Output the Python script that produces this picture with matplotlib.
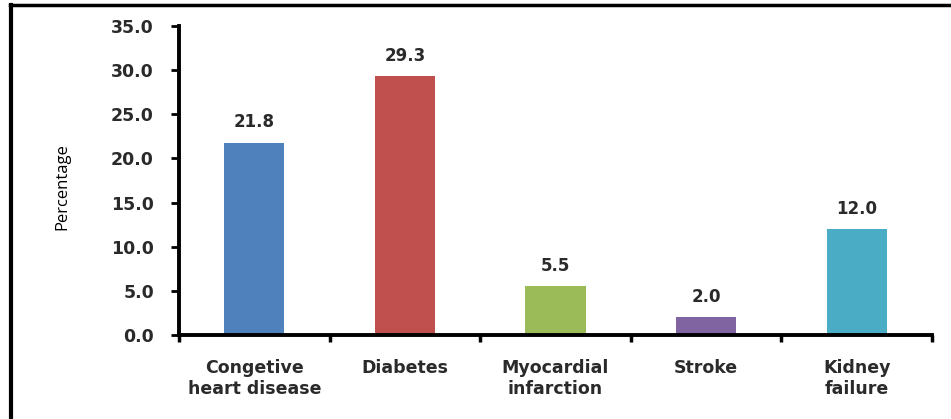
import numpy as np
import matplotlib.pyplot as plt
from matplotlib.lines import Line2D

categories = ['Congetive\nheart disease', 'Diabetes', 'Myocardial\ninfarction',
              'Stroke', 'Kidney\nfailure']
percentages = [21.8, 29.3, 5.5, 2.0, 12.0]
bar_colors = ['#4F81BD', '#C0504D', '#9BBB59', '#8064A2', '#4BACC6']
y_ticks = [0, 5, 10, 15, 20, 25, 30, 35]

plt.rcParams['font.family'] = ['DejaVu Sans']
text_color = '#2a2a2a'

fig = plt.figure(figsize=(9.51, 4.19), dpi=100)
ax = fig.add_axes([0.1882, 0.2005, 0.7918, 0.7375])

x = np.arange(len(categories))
bars = ax.bar(x, percentages, width=0.4, color=bar_colors, zorder=2)

for xi, val in zip(x, percentages):
    ax.text(xi, val + 1.3, f'{val:.1f}', ha='center', va='bottom',
            fontsize=12, fontweight='bold', color=text_color)

ax.set_xlim(-0.5, len(categories) - 0.5)
ax.set_ylim(0, 35)
ax.set_yticks(y_ticks)
ax.set_yticklabels([f'{v:.1f}' for v in y_ticks], fontsize=12.5,
                   fontweight='bold', color=text_color)

# category boundaries get the tick marks, labels sit at the bar centres
ax.set_xticks(np.arange(-0.5, len(categories), 1.0))
ax.set_xticklabels([])
ax.set_xticks(x, minor=True)
ax.set_xticklabels(categories, minor=True, fontsize=12.5, fontweight='bold',
                   color=text_color, linespacing=1.25)
ax.tick_params(axis='x', which='minor', length=0, pad=17)
ax.tick_params(axis='x', which='major', length=5, width=2.5, direction='out')
ax.tick_params(axis='y', length=6, width=2, direction='out', pad=12)

for side in ['top', 'right']:
    ax.spines[side].set_visible(False)
for side in ['left', 'bottom']:
    ax.spines[side].set_linewidth(2.8)

fig.text(62 / 951, 1 - 187 / 419, 'Percentage', rotation=90, ha='center',
         va='center', fontsize=12, family='Open Sans', color='black')

# chart frame (top and left edges)
fig.add_artist(Line2D([0.0105, 1.0], [0.987, 0.987], transform=fig.transFigure,
                      color='black', linewidth=2.5))
fig.add_artist(Line2D([0.0115, 0.0115], [0.0, 0.988], transform=fig.transFigure,
                      color='black', linewidth=3))

fig.savefig('out.png', dpi=100)
